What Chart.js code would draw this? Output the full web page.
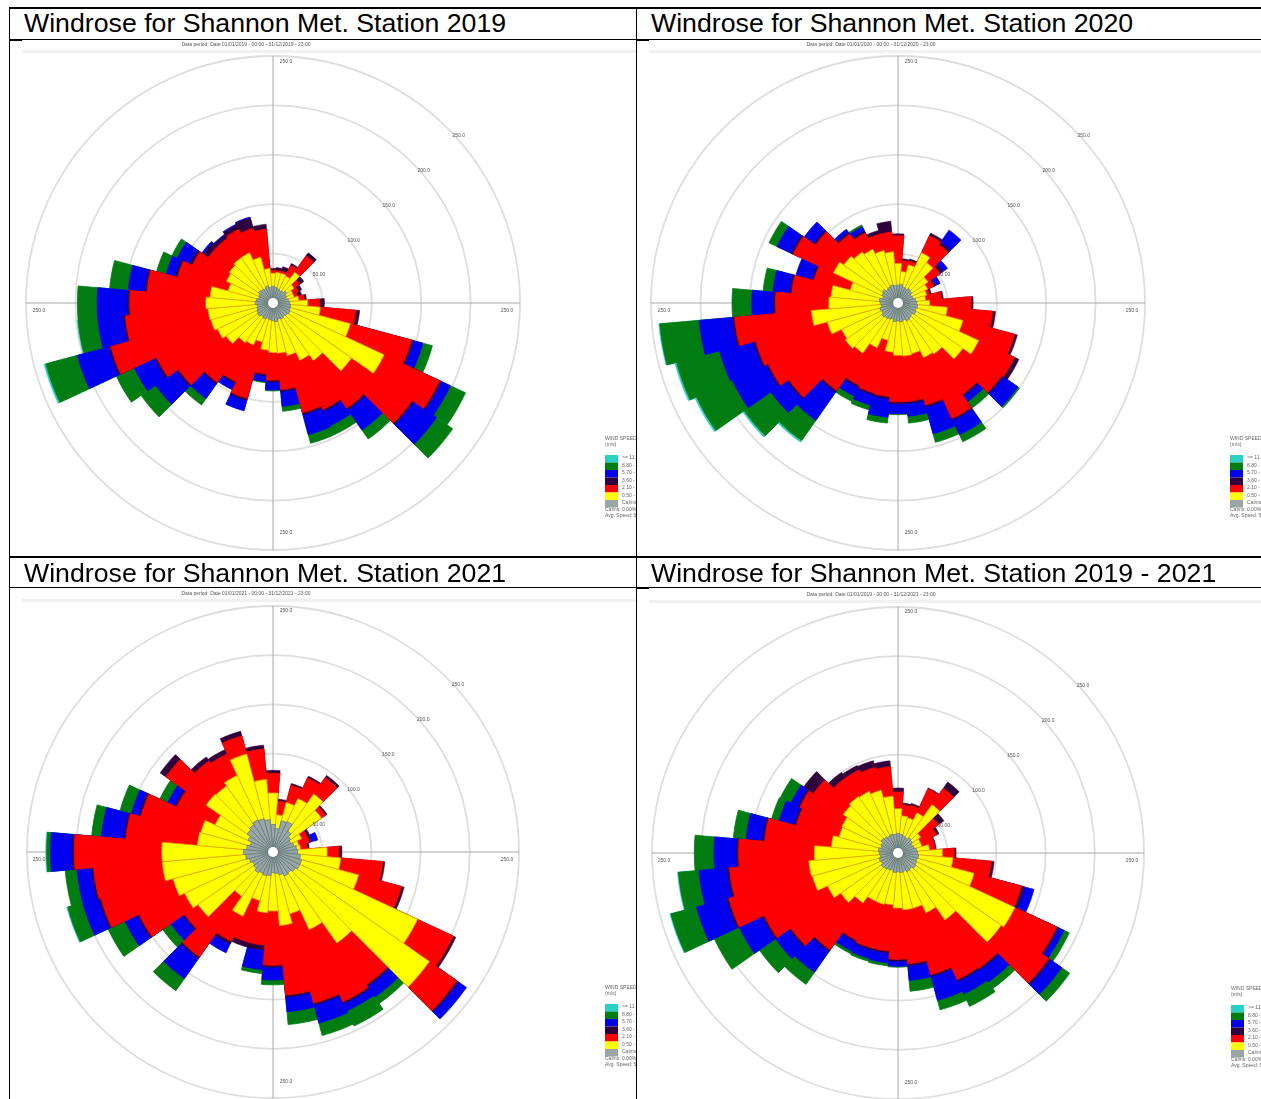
<!DOCTYPE html>
<html>
<head>
<meta charset="utf-8">
<title>Windrose for Shannon Met. Station</title>
<script src="https://cdn.jsdelivr.net/npm/chart.js@4/dist/chart.umd.min.js"></script>
<style>
html, body { margin: 0; padding: 0; background: #fff; }
body { position: relative; width: 1261px; height: 1099px; overflow: hidden; font-family: "Liberation Sans", Arial, sans-serif; }
.line { position: absolute; background: #000; }
.title { position: absolute; font-size: 26.7px; line-height: 30px; color: #000; white-space: nowrap; }
canvas { position: absolute; filter: blur(0.6px); }
</style>
</head>
<body>
<canvas id="c2019" width="626" height="515" style="left:10px;top:41px"></canvas>
<canvas id="c2020" width="624" height="515" style="left:637px;top:41px"></canvas>
<canvas id="c2021" width="626" height="511" style="left:10px;top:588px"></canvas>
<canvas id="cAll" width="624" height="511" style="left:637px;top:588px"></canvas>
<div class="line" style="left:9px;top:7px;width:1252px;height:2px"></div>
<div class="line" style="left:9px;top:39px;width:1252px;height:1px"></div>
<div class="line" style="left:9px;top:39px;width:13px;height:2px"></div>
<div class="line" style="left:636px;top:39px;width:13px;height:2px"></div>
<div class="line" style="left:9px;top:556px;width:1252px;height:2px"></div>
<div class="line" style="left:9px;top:587px;width:1252px;height:1px"></div>
<div class="line" style="left:636px;top:587px;width:13px;height:2px"></div>
<div class="line" style="left:9px;top:7px;width:1px;height:1092px"></div>
<div class="line" style="left:636px;top:7px;width:1px;height:1092px"></div>
<div class="title" style="left:24px;top:8px">Windrose for Shannon Met. Station 2019</div>
<div class="title" style="left:651px;top:8px">Windrose for Shannon Met. Station 2020</div>
<div class="title" style="left:24px;top:558px">Windrose for Shannon Met. Station 2021</div>
<div class="title" style="left:651px;top:558px">Windrose for Shannon Met. Station 2019 - 2021</div>
<script>
// sectors run clockwise from north, 10 degrees each
var sectors = ['N','10','20','30','40','50','60','70','80','E','100','110','120','130','140','150','160','170','S','190','200','210','220','230','240','250','260','W','280','290','300','310','320','330','340','350'];
var tickValues = [50, 100, 150, 200, 250];
var tickLabels = ['50.00', '100.0', '150.0', '200.0', '250.0'];
var legendLabels = ['>= 11.10', '8.80 - 11.10', '5.70 - 8.80', '3.60 - 5.70', '2.10 - 3.60', '0.50 - 2.10', 'Calms'];

// outer edge of each speed class, 0 where the class is not seen in that sector
var gray2019 = [17,16,15,14,15,17,15,14,16,17,18,18,19,18,17,18,17,19,18,17,16,18,17,19,18,17,16,18,17,15,16,18,17,16,18,16];
var yellow2019 = [30,31,31,30,38,26,22,22,26,35,48,81,124,97,71,64,55,51,50,48,41,47,49,58,62,65,66,68,64,47,52,54,56,56,48,35];
var red2019 = [33,33,33,42,58,33,28,26,32,47,84,145,186,172,130,119,115,88,78,72,100,88,98,117,130,170,150,145,128,100,90,80,80,82,78,75];
var dark2019 = [35,36,38,44,62,38,32,30,34,52,88,147,188,174,132,121,117,90,80,74,102,90,100,119,132,172,152,147,130,102,93,86,84,87,89,80];
var blue2019 = [0,0,0,0,0,0,0,0,0,0,0,157,198,202,157,137,138,105,88,80,113,97,118,145,155,205,178,178,147,112,107,88,85,88,90,0];
var green2019 = [0,0,0,0,0,0,0,0,0,0,0,167,215,222,168,147,147,110,89,81,0,0,126,163,175,238,198,198,166,122,113,0,0,0,0,0];
var cyan2019 = [0,0,0,0,0,0,0,0,0,0,0,0,0,0,0,0,0,0,0,0,0,0,0,0,0,240,199,0,0,0,0,0,0,0,0,0];

var gray2020 = [18,19,17,16,18,17,15,16,18,19,20,19,20,18,19,20,18,19,18,19,17,18,19,20,18,19,17,18,19,16,18,19,17,18,19,18];
var yellow2020 = [40,32,40,56,50,37,33,30,28,32,50,68,90,80,63,61,53,54,53,50,39,50,62,65,63,74,88,70,68,50,72,67,63,60,55,52];
var red2020 = [68,43,44,75,72,52,40,33,44,74,96,122,130,128,113,129,107,100,100,95,94,92,108,135,145,149,166,124,108,88,117,102,85,78,72,72];
var dark2020 = [70,45,46,78,75,55,42,35,46,76,99,125,135,130,115,131,109,102,102,97,96,94,110,137,147,151,168,126,110,90,119,104,87,80,76,83];
var blue2020 = [0,0,0,0,90,61,47,0,0,0,0,0,0,148,122,147,137,115,112,116,107,104,145,157,185,187,202,148,127,107,135,116,91,85,0,0];
var green2020 = [0,0,0,0,0,0,0,0,0,0,0,0,0,150,130,155,146,122,113,122,112,110,170,190,225,232,242,168,137,0,144,0,0,87,0,0];
var cyan2020 = [0,0,0,0,0,0,0,0,0,0,0,0,0,0,0,0,0,0,0,0,0,0,172,192,227,234,243,0,0,0,0,0,0,0,0,0];

var gray2021 = [28,24,33,34,26,22,20,22,24,25,28,30,30,28,26,27,24,22,21,24,25,24,26,24,23,25,28,30,27,24,28,32,34,36,35,33];
var yellow2021 = [60,38,52,60,72,60,32,27,28,55,69,90,162,194,113,87,65,75,60,62,51,72,55,93,99,105,113,113,77,76,65,83,82,86,103,74];
var red2021 = [80,52,70,83,92,65,38,38,35,67,112,135,202,228,165,168,159,146,115,95,95,100,130,110,150,181,183,202,150,139,108,133,113,110,122,105];
var dark2021 = [83,54,72,85,95,67,41,40,37,70,114,138,205,230,167,170,161,148,117,100,100,103,132,112,152,183,185,204,152,141,110,140,118,115,127,109];
var blue2021 = [0,0,0,0,0,0,0,47,0,0,0,0,0,240,180,178,180,163,130,120,0,113,157,127,166,200,200,226,175,149,118,0,0,0,0,0];
var green2021 = [0,0,0,0,0,0,0,0,0,0,0,0,0,0,188,195,193,176,135,124,0,0,172,137,185,216,212,230,185,161,127,0,0,0,0,0];
var cyan2021 = [0,0,0,0,0,0,0,0,0,0,0,0,0,0,0,0,0,0,0,0,0,0,0,0,0,217,0,231,0,0,0,0,0,0,0,0];

var grayAll = [20,19,18,17,19,18,16,17,19,20,21,20,21,22,20,21,19,20,19,20,18,19,20,21,19,20,18,19,20,18,19,21,20,19,20,19];
var yellowAll = [45,38,37,45,60,28,25,25,32,45,56,80,131,128,83,67,58,58,56,53,54,54,62,71,79,90,91,85,68,62,63,68,70,69,66,58];
var redAll = [62,49,50,72,80,50,43,38,38,57,95,130,178,187,143,142,128,113,108,100,100,98,120,133,150,178,172,162,136,107,110,105,93,93,90,88];
var darkAll = [66,51,52,73,88,57,46,39,39,59,98,133,180,189,145,144,130,115,110,102,102,100,122,135,152,180,174,164,138,109,112,117,100,98,97,94];
var blueAll = [0,0,0,0,0,0,0,0,0,0,0,143,186,203,160,158,155,130,115,112,111,110,148,152,178,212,203,187,155,125,120,0,0,0,0,0];
var greenAll = [0,0,0,0,0,0,0,0,0,0,0,0,192,213,168,172,165,141,116,115,114,113,163,172,206,239,224,207,168,133,132,0,0,0,0,0];
var cyanAll = [0,0,0,0,0,0,0,0,0,0,0,0,0,0,0,0,0,0,0,0,0,0,0,0,0,240,225,0,0,0,0,0,0,0,0,0];

var layerColors = ['#29d0c8', '#007c10', '#0000f0', '#30003c', '#ff0000', '#ffff00', '#9aa6a6'];
var holeRadius = 5;

// axes, white hole, tick labels, legend and the small heading of each plot
var roseExtras = {
	id: 'roseExtras',
	beforeDatasetsDraw: function(chart) {
		var r = chart.scales.r, ctx = chart.ctx, d = r.drawingArea;
		ctx.save();
		ctx.strokeStyle = '#a8a8a8';
		ctx.lineWidth = 1;
		ctx.beginPath();
		ctx.moveTo(r.xCenter, r.yCenter - d);
		ctx.lineTo(r.xCenter, r.yCenter + d);
		ctx.moveTo(r.xCenter - d, r.yCenter);
		ctx.lineTo(r.xCenter + d, r.yCenter);
		ctx.stroke();
		ctx.restore();
	},
	afterDatasetsDraw: function(chart, args, opts) {
		var r = chart.scales.r, ctx = chart.ctx;
		ctx.save();
		ctx.fillStyle = '#fff';
		ctx.beginPath();
		ctx.arc(r.xCenter, r.yCenter, r.getDistanceFromCenterForValue(holeRadius), 0, Math.PI * 2);
		ctx.fill();

		ctx.font = '5px "Liberation Sans"';
		ctx.fillStyle = '#555';
		ctx.textAlign = 'center';
		ctx.textBaseline = 'middle';
		tickValues.forEach(function(v, i) {
			var dist = r.getDistanceFromCenterForValue(v) * Math.SQRT1_2;
			ctx.fillText(tickLabels[i], r.xCenter + dist + 11, r.yCenter - dist + 7);
		});
		var last = tickLabels[tickLabels.length - 1];
		ctx.fillText(last, r.xCenter + 13, r.yCenter - 241);
		ctx.fillText(last, r.xCenter + 234, r.yCenter + 8);
		ctx.fillText(last, r.xCenter - 234, r.yCenter + 8);
		ctx.fillText(last, r.xCenter + 13, r.yCenter + 230);

		// heading
		ctx.fillStyle = '#555';
		ctx.fillText(opts.heading, r.xCenter - 27, r.yCenter - 258);
		ctx.fillStyle = '#f1f1f1';
		ctx.fillRect(12, r.yCenter - 253, 640, 3);

		// legend, cut by the cell edge like the original
		var lx = opts.legendX, ly = r.yCenter + 136;
		ctx.textAlign = 'left';
		ctx.fillStyle = '#666';
		ctx.fillText('WIND SPEED', lx, ly);
		ctx.fillText('(m/s)', lx, ly + 6);
		layerColors.forEach(function(c, i) {
			ctx.fillStyle = c;
			ctx.fillRect(lx, ly + 16 + i * 7.5, 13, 7.5);
			ctx.fillStyle = '#666';
			ctx.fillText(legendLabels[i], lx + 17, ly + 19 + i * 7.5);
		});
		ctx.fillStyle = '#666';
		ctx.fillText('Calms: 0.00%', lx, ly + 71);
		ctx.fillText('Avg. Speed: 5.1', lx, ly + 77);
		ctx.restore();
	}
};

function drawRose(canvasId, heading, legendX, padding, gray, yellow, red, dark, blue, green, cyan) {
	var layers = [gray, yellow, red, dark, blue, green, cyan];
	var fills = ['#9aa6a6', '#ffff00', '#ff0000', '#30003c', '#0000f0', '#007c10', '#29d0c8'];
	var edges = ['#6a8080', '#e0a800', '#ff0000', '#30003c', '#0000f0', '#007c10', '#29d0c8'];
	var widths = [0.9, 0.8, 0.8, 0.6, 0.8, 0.8, 0.6];
	var ctx = document.getElementById(canvasId);
	var config = {
		type: 'polarArea',
		data: {
			labels: sectors,
			datasets: layers.map(function(values, i) {
				return {
					data: values,
					backgroundColor: fills[i],
					borderColor: edges[i],
					borderWidth: values.map(function(v) { return v > 0 ? widths[i] : 0; })
				};
			})
		},
		plugins: [roseExtras],
		options: {
			responsive: false,
			animation: false,
			layout: { padding: padding },
			scales: {
				r: {
					min: 0,
					max: 250,
					startAngle: -5,
					ticks: { display: false, stepSize: 50 },
					grid: { circular: true, color: '#dedede', lineWidth: 1.8 }
				}
			},
			plugins: {
				legend: { display: false },
				tooltip: { enabled: false },
				roseExtras: { heading: heading, legendX: legendX }
			}
		}
	};
	return new Chart(ctx, config);
}

drawRose('c2019', 'Data period: Date 01/01/2019 - 00:00 - 31/12/2019 - 23:00', 595, { left: 16, right: 116, top: 15, bottom: 6 }, gray2019, yellow2019, red2019, dark2019, blue2019, green2019, cyan2019);
drawRose('c2020', 'Data period: Date 01/01/2020 - 00:00 - 31/12/2020 - 23:00', 593, { left: 14, right: 116, top: 15, bottom: 6 }, gray2020, yellow2020, red2020, dark2020, blue2020, green2020, cyan2020);
drawRose('c2021', 'Data period: Date 01/01/2021 - 00:00 - 31/12/2021 - 23:00', 595, { left: 16, right: 116, top: 18, bottom: -1 }, gray2021, yellow2021, red2021, dark2021, blue2021, green2021, cyan2021);
drawRose('cAll', 'Data period: Date 01/01/2019 - 00:00 - 31/12/2021 - 23:00', 594, { left: 14, right: 116, top: 19, bottom: -2 }, grayAll, yellowAll, redAll, darkAll, blueAll, greenAll, cyanAll);
</script>
</body>
</html>
